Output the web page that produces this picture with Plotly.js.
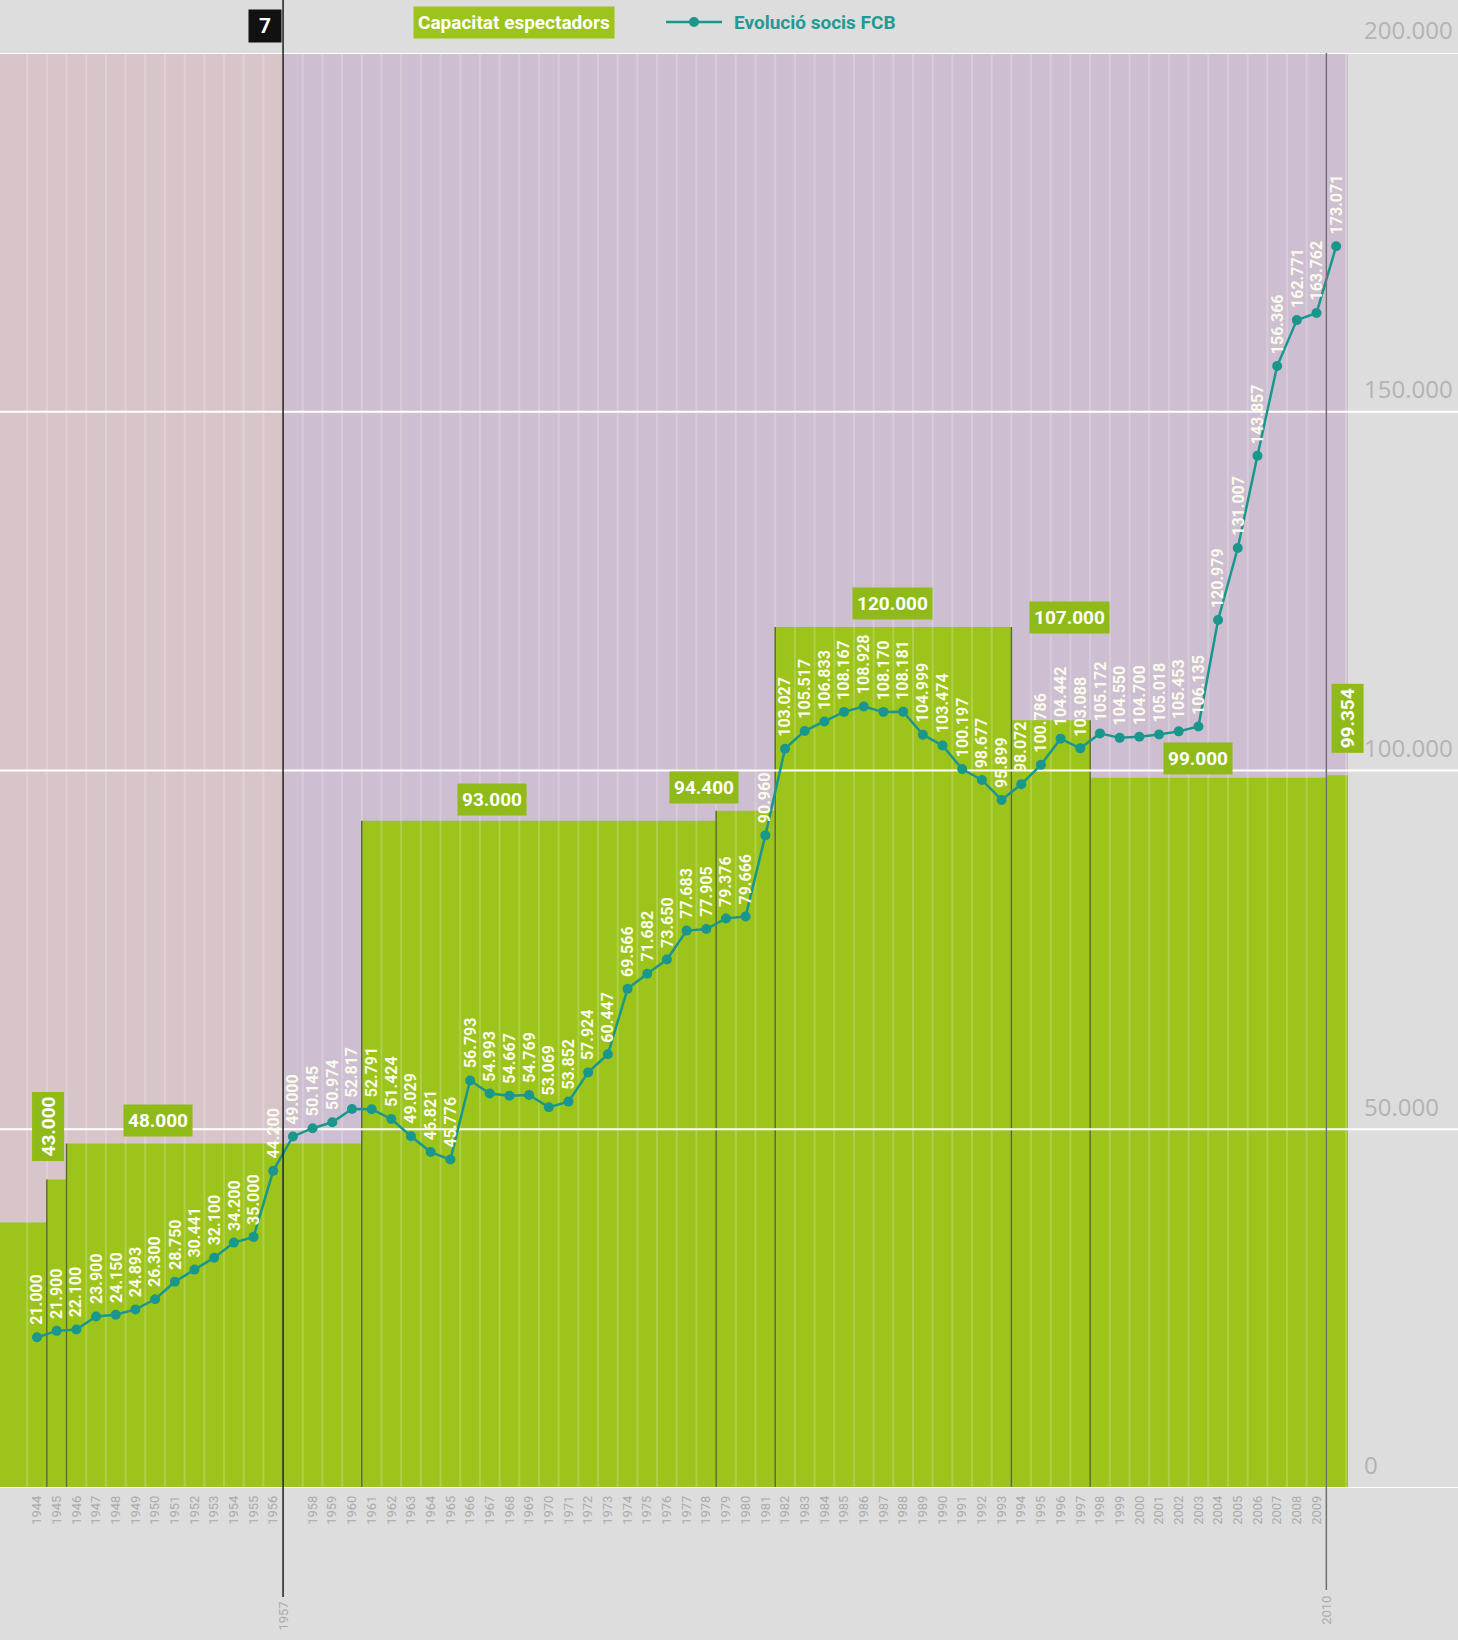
<!DOCTYPE html>
<html>
<head>
<meta charset="utf-8">
<script src="https://cdn.plot.ly/plotly-3.0.1.min.js"></script>
<style>
html,body{margin:0;padding:0;background:#dddddd;}
#chart{width:1458px;height:1640px;}
</style>
</head>
<body>
<div id="chart"></div>
<script>
// ---------------- DATA ----------------
const years = [1944,1945,1946,1947,1948,1949,1950,1951,1952,1953,1954,1955,1956,
  1957,1958,1959,1960,1961,1962,1963,1964,1965,1966,1967,1968,1969,1970,
  1971,1972,1973,1974,1975,1976,1977,1978,1979,1980,1981,1982,1983,1984,
  1985,1986,1987,1988,1989,1990,1991,1992,1993,1994,1995,1996,1997,1998,
  1999,2000,2001,2002,2003,2004,2005,2006,2007,2008,2009,2010];

// Evolució socis FCB
const socis = [21000,21900,22100,23900,24150,24893,26300,28750,30441,32100,34200,35000,44200,
  49000,50145,50974,52817,52791,51424,49029,46821,45776,56793,54993,54667,54769,53069,
  53852,57924,60447,69566,71682,73650,77683,77905,79376,79666,90960,103027,105517,106833,
  108167,108928,108170,108181,104999,103474,100197,98677,95899,98072,100786,104442,103088,105172,
  104550,104700,105018,105453,106135,120979,131007,143857,156366,162771,163762,173071];

// Capacitat espectadors (per season)
const capacitat = [37000,43000,48000,48000,48000,48000,48000,48000,48000,48000,48000,48000,48000,
  48000,48000,48000,48000,93000,93000,93000,93000,93000,93000,93000,93000,93000,93000,
  93000,93000,93000,93000,93000,93000,93000,93000,94400,94400,94400,120000,120000,120000,
  120000,120000,120000,120000,120000,120000,120000,120000,120000,107000,107000,107000,107000,99000,
  99000,99000,99000,99000,99000,99000,99000,99000,99000,99000,99000,99354];

// Labelled capacities
const capLabelValues = [43000,48000,93000,94400,120000,107000,99000,99354];

const yTicks = [0,50000,100000,150000,200000];
const eraYears = [1957,2010];
const badgeText = '7';
const legendCap = 'Capacitat espectadors';
const legendSocis = 'Evolució socis FCB';

// ---------------- STYLE ----------------
const W = 1458, H = 1640;
const M = {l:0, r:110, t:53, b:152};
const plotW = W - M.l - M.r, plotH = H - M.t - M.b;
const xr = [1942.12, 2010.6];
const yr = [0, 200000];

const GREEN = '#9cc41b';
const LABEL_GREEN = '#90ba17';
const TEAL = '#1a978c';
const PINK = '#d7c5c9';
const LAVENDER = '#cdbfd1';
const GREY_TXT = '#ababab';
const FONT = 'Roboto, "Open Sans", sans-serif';

// capacity label placement (style)
const capLabelStyle = [
  {x:1944.56, yshift:18, vertical:true},
  {x:1950.15, yshift:7},
  {x:1967.12, yshift:5},
  {x:1977.9,  yshift:7},
  {x:1987.45, yshift:7},
  {x:1996.44, yshift:86},
  {x:2002.99, yshift:3},
  {x:2010.56, yshift:22, vertical:true}
];

function fmt(v){ return String(v).replace(/\B(?=(\d{3})+(?!\d))/g,'.'); }
function pxToPaperY(py){ return 1 - (py - M.t)/plotH; }
function pxToPaperX(px){ return (px - M.l)/plotW; }

// ---------------- TRACES ----------------
const traces = [];

// capacity step area
const stepX = [xr[0]];
const stepY = [capacitat[0]];
for (let i=1;i<years.length;i++){ stepX.push(years[i]-0.5); stepY.push(capacitat[i]); }
stepX.push(xr[1]); stepY.push(capacitat[capacitat.length-1]);
traces.push({type:'scatter', mode:'lines', x:stepX, y:stepY, line:{shape:'hv', width:0, color:GREEN},
  fill:'tozeroy', fillcolor:GREEN, hoverinfo:'skip', showlegend:false});

// year stripes
const sx=[], sy=[];
for (let i=0;i<years.length;i++){ const b=years[i]-0.5; sx.push(b,b,null); sy.push(yr[0],yr[1],null); }
sx.push(years[years.length-1]+0.5, years[years.length-1]+0.5, null); sy.push(yr[0],yr[1],null);
traces.push({type:'scatter', mode:'lines', x:sx, y:sy, line:{color:'rgba(255,255,255,0.2)', width:2},
  hoverinfo:'skip', showlegend:false});

// step separators
const dx=[], dy=[];
for (let i=1;i<years.length;i++){
  if (capacitat[i]!==capacitat[i-1] && !(eraYears.includes(years[i]))){
    const b = years[i]-0.5;
    dx.push(b,b,null); dy.push(0, Math.max(capacitat[i],capacitat[i-1]), null);
  }
}
traces.push({type:'scatter', mode:'lines', x:dx, y:dy, line:{color:'#5a6a2c', width:1.5},
  hoverinfo:'skip', showlegend:false});

// gridlines over the area
const gx=[], gy=[];
yTicks.forEach(t=>{ gx.push(xr[0],xr[1],null); gy.push(t,t,null); });
traces.push({type:'scatter', mode:'lines', x:gx, y:gy, line:{color:'#ffffff', width:2},
  hoverinfo:'skip', showlegend:false, cliponaxis:false});

// socis line
traces.push({type:'scatter', mode:'lines+markers', x:years, y:socis, name:legendSocis,
  line:{color:TEAL, width:2.5}, marker:{color:TEAL, size:10}, hoverinfo:'x+y', showlegend:false});

// ---------------- SHAPES ----------------
const shapes = [];
shapes.push({type:'rect', xref:'x', yref:'paper', x0:xr[0], x1:eraYears[0]-0.5, y0:0, y1:1,
  fillcolor:PINK, line:{width:0}, layer:'below'});
shapes.push({type:'rect', xref:'x', yref:'paper', x0:eraYears[0]-0.5, x1:xr[1], y0:0, y1:1,
  fillcolor:LAVENDER, line:{width:0}, layer:'below'});
yTicks.forEach(t=>{
  shapes.push({type:'line', xref:'paper', yref:'y', x0:1, x1:W/plotW, y0:t, y1:t,
    line:{color:'#ffffff', width:2}, layer:'below'});
});
shapes.push({type:'line', xref:'x', yref:'paper', x0:eraYears[0]-0.5, x1:eraYears[0]-0.5,
  y0:pxToPaperY(0), y1:pxToPaperY(1597), line:{color:'#1e1e1e', width:1.5}, layer:'above'});
shapes.push({type:'line', xref:'x', yref:'paper', x0:eraYears[1]-0.5, x1:eraYears[1]-0.5,
  y0:1, y1:pxToPaperY(1590), line:{color:'#6f6f6f', width:1.5}, layer:'above'});
const legY = pxToPaperY(22);
shapes.push({type:'line', xref:'paper', yref:'paper', x0:pxToPaperX(666), x1:pxToPaperX(722), y0:legY, y1:legY,
  line:{color:TEAL, width:2.5}});
shapes.push({type:'circle', xref:'paper', yref:'paper', xsizemode:'pixel', ysizemode:'pixel',
  xanchor:pxToPaperX(694), yanchor:legY, x0:-5, x1:5, y0:-5, y1:5, fillcolor:TEAL, line:{width:0}});

// ---------------- ANNOTATIONS ----------------
const ann = [];
for (let i=0;i<years.length;i++){
  ann.push({x:years[i], y:socis[i], xref:'x', yref:'y', text:'<b>'+fmt(socis[i])+'</b>', textangle:-90,
    showarrow:false, xanchor:'center', yanchor:'bottom', yshift:10,
    font:{family:FONT, size:16, color:'#fbfbec'}});
}
capLabelValues.forEach((v,k)=>{
  const st = capLabelStyle[k];
  ann.push({x:st.x, y:v, xref:'x', yref:'y', text:'<b>'+fmt(v)+'</b>', textangle: st.vertical?-90:0,
    showarrow:false, xanchor:'center', yanchor:'bottom', yshift:st.yshift,
    bgcolor:LABEL_GREEN, borderpad:4, font:{family:FONT, size:19, color:'#ffffff'}});
});
ann.push({x:eraYears[0]-0.5, y:pxToPaperY(1600), xref:'x', yref:'paper', text:String(eraYears[0]), textangle:-90,
  showarrow:false, xanchor:'center', yanchor:'top', font:{family:FONT, size:13, color:GREY_TXT}});
ann.push({x:eraYears[1]-0.5, y:pxToPaperY(1594), xref:'x', yref:'paper', text:String(eraYears[1]), textangle:-90,
  showarrow:false, xanchor:'center', yanchor:'top', font:{family:FONT, size:13, color:GREY_TXT}});
ann.push({x:pxToPaperX(514), y:pxToPaperY(23), xref:'paper', yref:'paper', text:'<b>'+legendCap+'</b>',
  showarrow:false, xanchor:'center', yanchor:'middle', bgcolor:'#9dc41c', borderpad:4,
  font:{family:FONT, size:19, color:'#ffffff'}});
ann.push({x:pxToPaperX(732), y:pxToPaperY(22), xref:'paper', yref:'paper', text:'<b>'+legendSocis+'</b>',
  showarrow:false, xanchor:'left', yanchor:'middle', font:{family:FONT, size:19, color:'#1f9b92'}});
ann.push({x:pxToPaperX(265), y:pxToPaperY(26), xref:'paper', yref:'paper', text:'<b>'+badgeText+'</b>',
  showarrow:false, xanchor:'center', yanchor:'middle', bgcolor:'#111111', width:30, height:30,
  font:{family:FONT, size:21, color:'#ffffff'}});

// ---------------- LAYOUT ----------------
const tickYears = years.filter(y=>!eraYears.includes(y));
const layout = {
  width:W, height:H, margin:M,
  paper_bgcolor:'#dddddd', plot_bgcolor:'rgba(0,0,0,0)',
  separators:',.',
  showlegend:false,
  xaxis:{range:xr, tickvals:tickYears, ticktext:tickYears.map(String), tickangle:-90,
    showgrid:false, zeroline:false, showline:false, ticks:'', ticklabelstandoff:4,
    tickfont:{family:FONT, size:13, color:GREY_TXT}, fixedrange:true},
  yaxis:{range:yr, side:'right', tickvals:yTicks, tickformat:',d', showgrid:false, zeroline:false,
    showline:false, ticks:'', ticklabelstandoff:15, ticklabelshift:-22,
    tickfont:{family:'"Open Sans", sans-serif', size:24, color:'#b3b3b3'}, fixedrange:true},
  shapes:shapes,
  annotations:ann
};

Plotly.newPlot('chart', traces, layout, {displayModeBar:false, staticPlot:true});
</script>
</body>
</html>
